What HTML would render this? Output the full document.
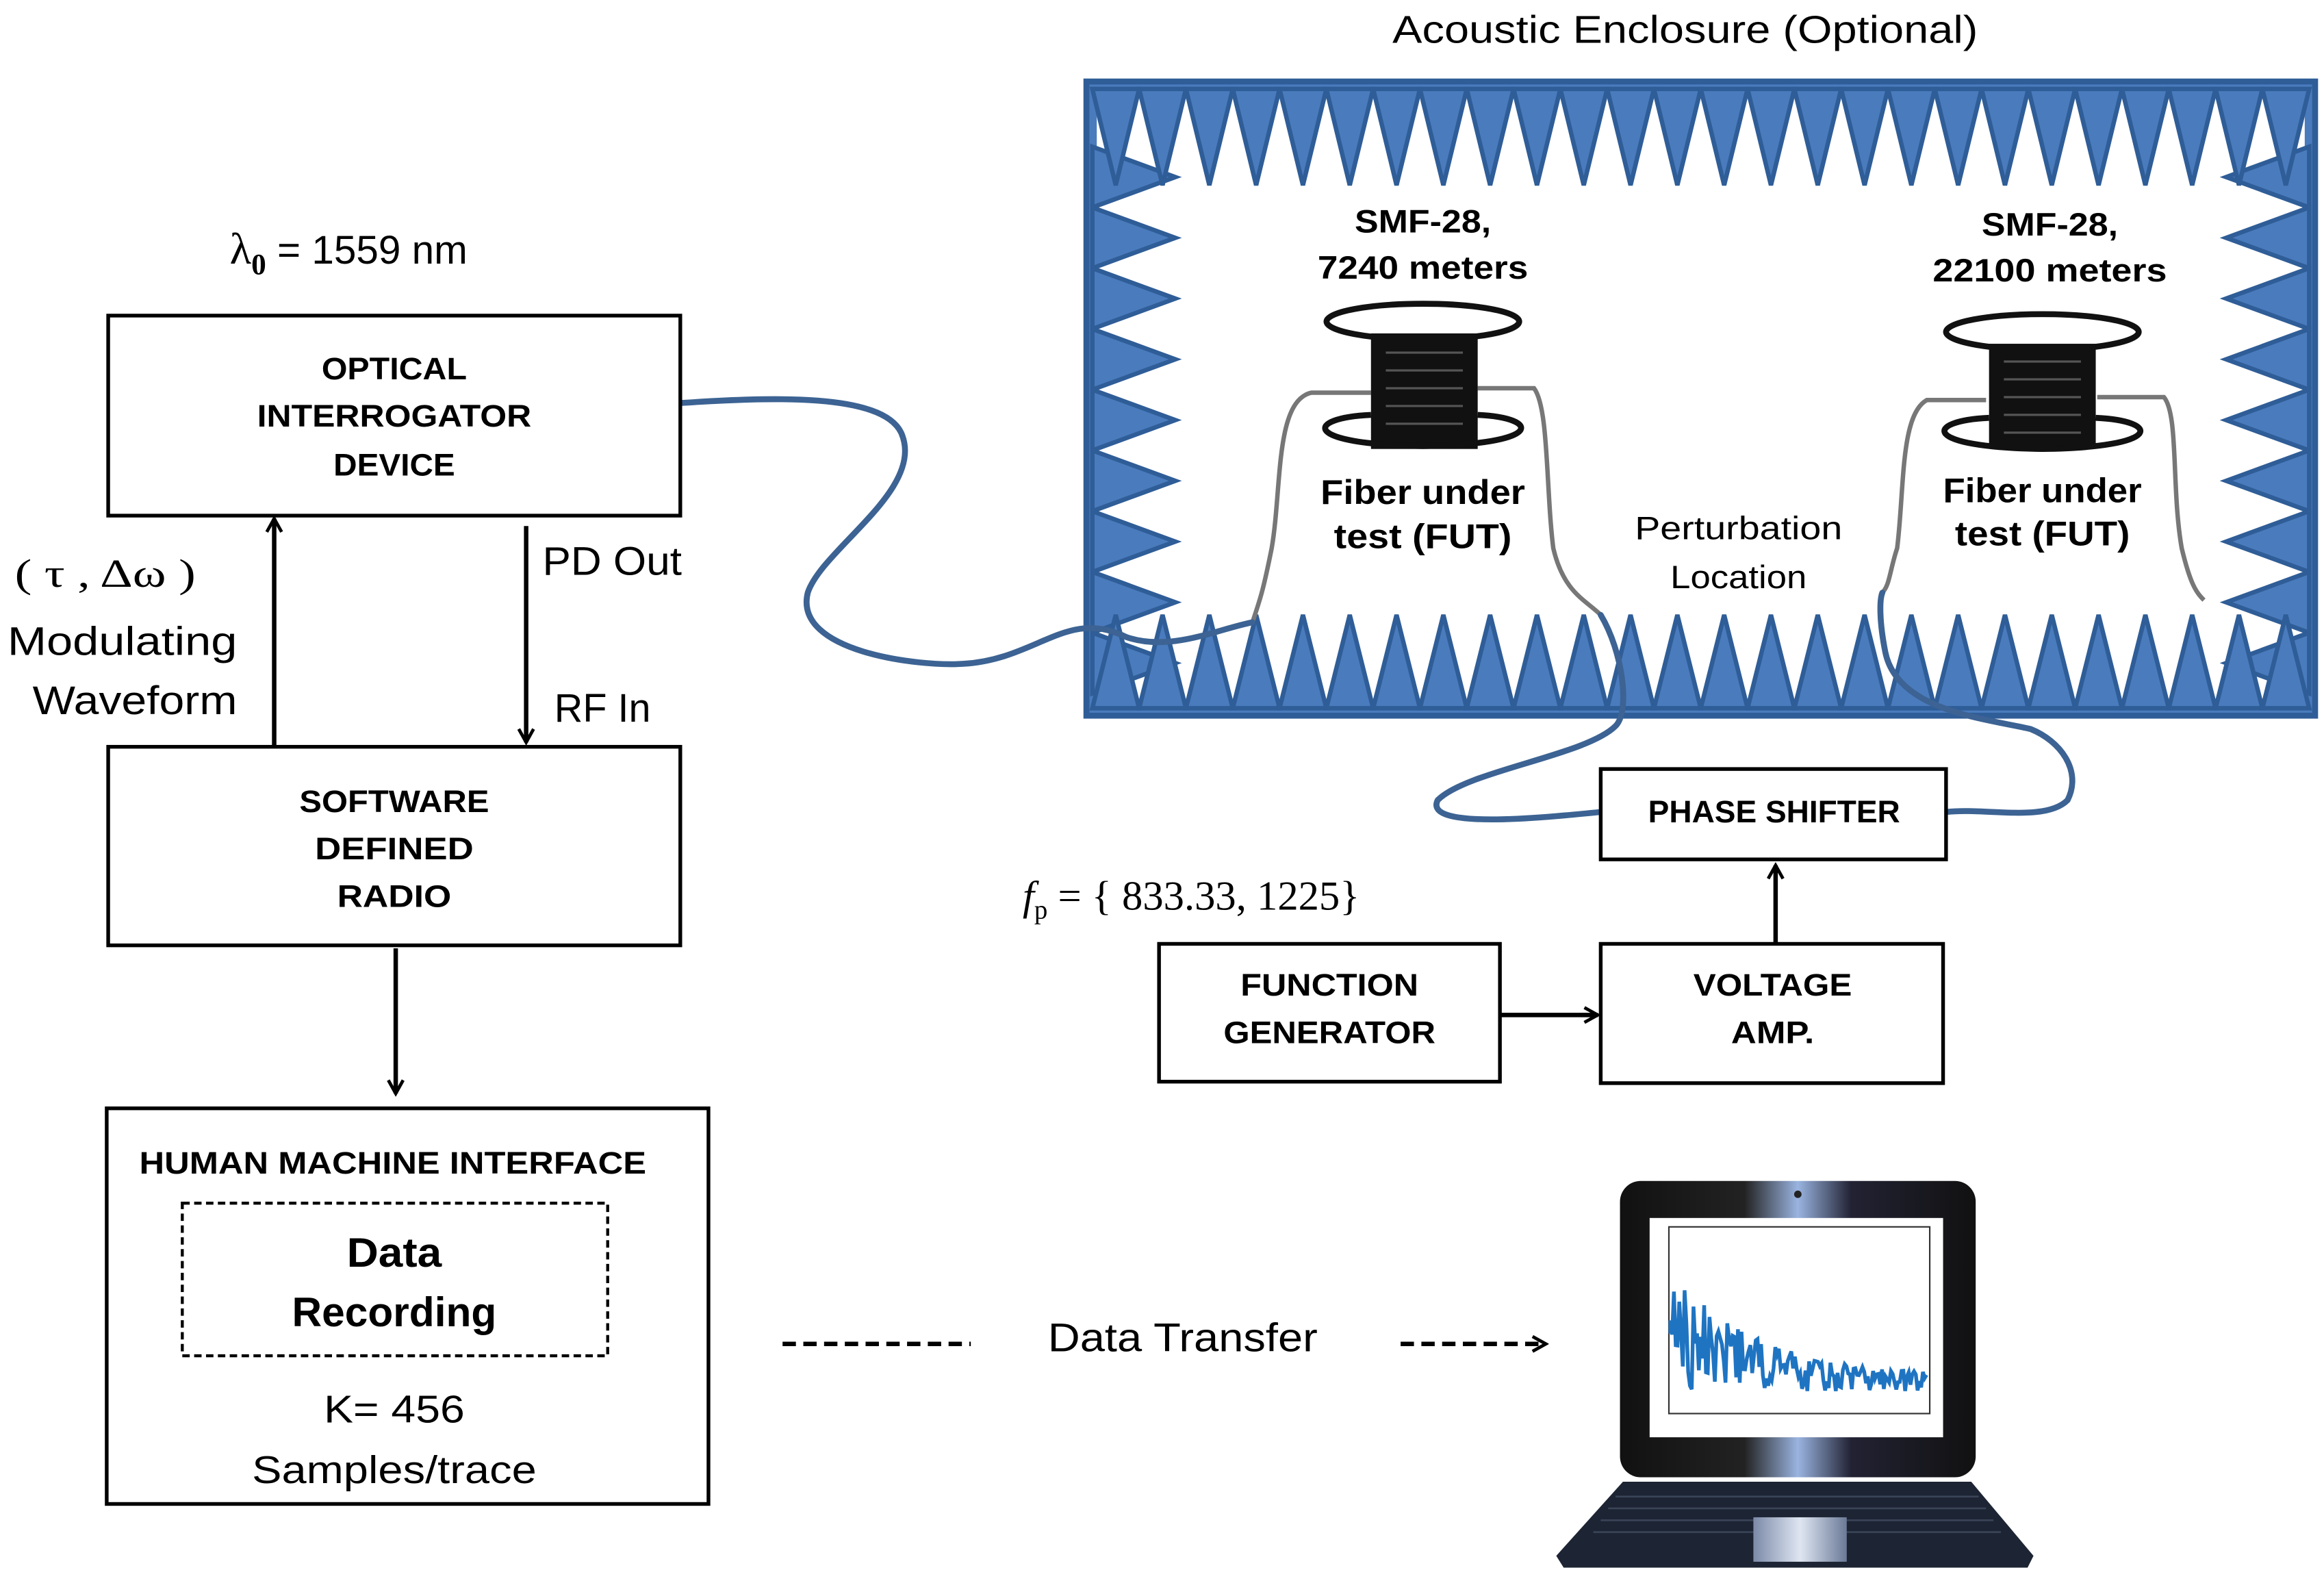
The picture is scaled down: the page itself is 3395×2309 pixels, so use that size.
<!DOCTYPE html>
<html><head><meta charset="utf-8"><style>html,body{margin:0;padding:0;background:#fff}svg{display:block}</style></head>
<body>
<svg id="s" width="3395" height="2309" viewBox="0 0 1568 1067" preserveAspectRatio="none" xmlns="http://www.w3.org/2000/svg" font-family="Liberation Sans, sans-serif">
<defs>
<marker id="ah" viewBox="0 0 12 12" refX="10" refY="6" markerWidth="12" markerHeight="12" markerUnits="userSpaceOnUse" orient="auto"><path d="M1,1 L10,6 L1,11" fill="none" stroke="#000" stroke-width="2.2"/></marker>
<linearGradient id="lid" x1="0" x2="1"><stop offset="0" stop-color="#111"/><stop offset="0.35" stop-color="#222"/><stop offset="0.5" stop-color="#9ab4e0"/><stop offset="0.65" stop-color="#223"/><stop offset="1" stop-color="#111"/></linearGradient>
<linearGradient id="pad" x1="0" x2="1"><stop offset="0" stop-color="#7c8aa8"/><stop offset="0.5" stop-color="#dfe6f2"/><stop offset="1" stop-color="#6b7a98"/></linearGradient>
</defs>
<text x="1137" y="29" font-size="26" text-anchor="middle" textLength="395" lengthAdjust="spacingAndGlyphs">Acoustic Enclosure (Optional)</text>
<rect x="733" y="55" width="829" height="428" fill="#4a7bbd" stroke="#2f5d97" stroke-width="4"/>
<rect x="740" y="62" width="815" height="414" fill="#fff"/>
<g id="teeth" fill="#4a7bbd" stroke="#2f5d97" stroke-width="3" stroke-linejoin="miter"></g>
<g stroke="#777" stroke-width="3" fill="none">
<path d="M925,265 L885,265 C860,270 865,330 858,370 C852,400 850,405 845,420"/>
<path d="M997,262 L1035,262 C1045,275 1043,330 1048,370 C1055,400 1070,405 1080,415"/>
<path d="M1340,270 L1300,270 C1282,280 1285,330 1280,370 C1275,385 1275,395 1270,400"/>
<path d="M1415,268 L1460,268 C1470,280 1465,330 1472,370 C1478,395 1482,400 1487,405"/>
</g>
<g stroke="#111" stroke-width="4" fill="none">
<ellipse cx="960" cy="217" rx="65" ry="12"/>
<ellipse cx="1378" cy="224" rx="65" ry="12"/>
</g>
<rect x="925" y="225" width="72" height="78" fill="#111"/>
<rect x="1342" y="232" width="72" height="70" fill="#111"/>
<g stroke="#555" stroke-width="1.5"><path d="M935,238h52M935,250h52M935,262h52M935,274h52M935,286h52M1352,244h52M1352,256h52M1352,268h52M1352,280h52M1352,292h52"/></g>
<g stroke="#111" stroke-width="4" fill="none">
<path d="M925,280 C880,282 878,300 960,301 C1042,300 1040,282 997,280"/>
<path d="M1342,282 C1298,284 1296,302 1378,303 C1460,302 1458,284 1414,282"/>
</g>
<g font-weight="bold" font-size="22" text-anchor="middle">
<text x="960" y="157" textLength="92" lengthAdjust="spacingAndGlyphs">SMF-28,</text>
<text x="960" y="188" textLength="142" lengthAdjust="spacingAndGlyphs">7240 meters</text>
<text x="1383" y="159" textLength="92" lengthAdjust="spacingAndGlyphs">SMF-28,</text>
<text x="1383" y="190" textLength="158" lengthAdjust="spacingAndGlyphs">22100 meters</text>
<text x="960" y="340" font-size="23" textLength="138" lengthAdjust="spacingAndGlyphs">Fiber under</text>
<text x="960" y="370" font-size="23" textLength="120" lengthAdjust="spacingAndGlyphs">test (FUT)</text>
<text x="1378" y="339" font-size="23" textLength="134" lengthAdjust="spacingAndGlyphs">Fiber under</text>
<text x="1378" y="368" font-size="23" textLength="118" lengthAdjust="spacingAndGlyphs">test (FUT)</text>
</g>
<text x="1173" y="364" font-size="22" text-anchor="middle" textLength="140" lengthAdjust="spacingAndGlyphs">Perturbation</text>
<text x="1173" y="397" font-size="22" text-anchor="middle" textLength="92" lengthAdjust="spacingAndGlyphs">Location</text>
<g stroke="#3c6393" stroke-width="4" fill="none" stroke-linecap="round">
<path d="M459,272 C520,268 595,265 608,292 C625,330 555,370 545,400 C535,440 620,450 650,448 C700,445 720,410 760,430 C790,440 820,425 845,420"/>
<path d="M1080,415 C1095,440 1100,480 1090,490 C1070,510 990,520 970,540 C960,560 1040,552 1080,548"/>
<path d="M1313,548 C1340,545 1380,555 1395,540 C1405,520 1390,500 1370,492 C1340,485 1280,480 1272,440 C1268,420 1268,405 1270,400"/>
</g>
<text x="155" y="178" font-family="Liberation Serif, serif" font-size="30">λ<tspan font-size="20" dy="7" font-weight="bold">0</tspan><tspan dy="-7" font-family="Liberation Sans, sans-serif" font-size="27"> = 1559 nm</tspan></text>
<g fill="#fff" stroke="#000" stroke-width="2.5">
<rect x="73" y="213" width="386" height="135"/>
<rect x="73" y="504" width="386" height="134"/>
<rect x="72" y="748" width="406" height="267"/>
<rect x="782" y="637" width="230" height="93"/>
<rect x="1080" y="637" width="231" height="94"/>
<rect x="1080" y="519" width="233" height="61"/>
</g>
<rect x="123" y="812" width="287" height="103" fill="none" stroke="#000" stroke-width="2" stroke-dasharray="5,3"/>
<g font-weight="bold" font-size="21" text-anchor="middle">
<text x="266" y="256" textLength="98" lengthAdjust="spacingAndGlyphs">OPTICAL</text>
<text x="266" y="288" textLength="185" lengthAdjust="spacingAndGlyphs">INTERROGATOR</text>
<text x="266" y="321" textLength="82" lengthAdjust="spacingAndGlyphs">DEVICE</text>
<text x="266" y="548" textLength="128" lengthAdjust="spacingAndGlyphs">SOFTWARE</text>
<text x="266" y="580" textLength="107" lengthAdjust="spacingAndGlyphs">DEFINED</text>
<text x="266" y="612" textLength="77" lengthAdjust="spacingAndGlyphs">RADIO</text>
<text x="265" y="792" textLength="342" lengthAdjust="spacingAndGlyphs">HUMAN MACHINE INTERFACE</text>
<text x="266" y="855" font-size="28" textLength="64" lengthAdjust="spacingAndGlyphs">Data</text>
<text x="266" y="895" font-size="28" textLength="138" lengthAdjust="spacingAndGlyphs">Recording</text>
<text x="897" y="672" textLength="120" lengthAdjust="spacingAndGlyphs">FUNCTION</text>
<text x="897" y="704" textLength="143" lengthAdjust="spacingAndGlyphs">GENERATOR</text>
<text x="1196" y="672" textLength="107" lengthAdjust="spacingAndGlyphs">VOLTAGE</text>
<text x="1196" y="704" textLength="56" lengthAdjust="spacingAndGlyphs">AMP.</text>
<text x="1197" y="555" textLength="170" lengthAdjust="spacingAndGlyphs">PHASE SHIFTER</text>
</g>
<g font-size="27">
<text x="266" y="960" text-anchor="middle" font-size="26" textLength="95" lengthAdjust="spacingAndGlyphs">K= 456</text>
<text x="266" y="1001" text-anchor="middle" font-size="26" textLength="192" lengthAdjust="spacingAndGlyphs">Samples/trace</text>
<text x="10" y="396" font-family="Liberation Serif, serif" font-size="27" textLength="122" lengthAdjust="spacingAndGlyphs">( τ , Δω )</text>
<text x="5" y="442" textLength="155" lengthAdjust="spacingAndGlyphs">Modulating</text>
<text x="22" y="482" textLength="138" lengthAdjust="spacingAndGlyphs">Waveform</text>
<text x="366" y="388" textLength="94" lengthAdjust="spacingAndGlyphs">PD Out</text>
<text x="374" y="487" textLength="65" lengthAdjust="spacingAndGlyphs">RF In</text>
<text x="707" y="912" textLength="182" lengthAdjust="spacingAndGlyphs">Data Transfer</text>
</g>
<text x="690" y="614" font-family="Liberation Serif, serif" font-size="28"><tspan font-style="italic">f</tspan><tspan font-size="18" dy="6">p</tspan><tspan dy="-6"> = { 833.33, 1225}</tspan></text>
<g stroke="#000" stroke-width="3" fill="none" marker-end="url(#ah)">
<line x1="185" y1="503" x2="185" y2="350"/>
<line x1="355" y1="355" x2="355" y2="501"/>
<line x1="267" y1="640" x2="267" y2="738"/>
<line x1="1012" y1="685" x2="1078" y2="685"/>
<line x1="1198" y1="636" x2="1198" y2="584"/>
<line x1="945" y1="907" x2="1043" y2="907" stroke-dasharray="9,5"/>
</g>
<line x1="528" y1="907" x2="655" y2="907" stroke="#000" stroke-width="3" stroke-dasharray="9,5"/>
<path d="M1095,1000 L1330,1000 L1372,1050 L1368,1058 L1055,1058 L1050,1050 Z" fill="#1d2433"/>
<g stroke="#3a4458" stroke-width="1.2"><path d="M1090,1010h245M1085,1018h255M1080,1026h265M1075,1034h275"/></g>
<rect x="1183" y="1024" width="63" height="30" fill="url(#pad)"/>
<rect x="1093" y="797" width="240" height="200" rx="14" fill="url(#lid)"/>
<rect x="1113" y="822" width="198" height="148" fill="#fff"/>
<circle cx="1213" cy="806" r="2.5" fill="#222"/>
<rect x="1126" y="828" width="176" height="126" fill="none" stroke="#333" stroke-width="1"/>
<path id="sig" fill="none" stroke="#1f74c2" stroke-width="2.5"/>
</svg>
<script>
var ns="http://www.w3.org/2000/svg",g=document.getElementById("teeth");
function tri(p){var e=document.createElementNS(ns,"polygon");e.setAttribute("points",p);g.appendChild(e);}
var L=737,R=1558,T=60,B=478;
var m=9,y0=99,h=41;
for(var j=0;j<m;j++){var y=y0+j*h;tri(L+","+y+" "+L+","+(y+h)+" "+(L+56)+","+(y+h/2));tri(R+","+y+" "+R+","+(y+h)+" "+(R-56)+","+(y+h/2));}
var n=26,w=(R-L)/n;
for(var i=0;i<n;i++){var x=L+i*w;tri(x+","+T+" "+(x+w)+","+T+" "+(x+w/2)+","+125);}
for(var i=0;i<n;i++){var x=L+i*w;tri(x+","+B+" "+(x+w)+","+B+" "+(x+w/2)+","+415);}
var d="M1127,900";for(var x=1127;x<1300;x+=1.2){var a=75*Math.exp(-(x-1127)/55)+10;var v=942-Math.random()*a-3;d+=" L"+x.toFixed(1)+","+v.toFixed(1);}
document.getElementById("sig").setAttribute("d",d);
</script>
</body></html>
